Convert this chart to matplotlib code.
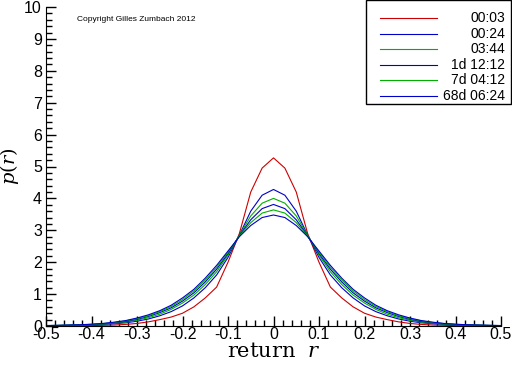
import numpy as np
import matplotlib
matplotlib.use("Agg")
import matplotlib.pyplot as plt
from matplotlib.ticker import MultipleLocator, AutoMinorLocator
from matplotlib.lines import Line2D
from matplotlib.patches import Rectangle

# return grid (one half, mirrored below)
r_half = [0.0, 0.025, 0.05, 0.075, 0.1, 0.125, 0.15, 0.175, 0.2, 0.225, 0.25,
          0.275, 0.3, 0.325, 0.35, 0.375, 0.4, 0.425, 0.45, 0.475, 0.5]

# densities, one value per r_half point
p_0003 = [5.27, 4.95, 4.2, 2.9, 2.0, 1.22, 0.88, 0.6, 0.4, 0.28, 0.2,
          0.13, 0.08, 0.05, 0.03, 0.02, 0.015, 0.01, 0.01, 0.01, 0.01]
p_0024 = [4.28, 4.1, 3.6, 2.85, 2.15, 1.6, 1.2, 0.88, 0.63, 0.45, 0.32,
          0.22, 0.15, 0.1, 0.07, 0.05, 0.035, 0.025, 0.018, 0.012, 0.01]
p_0344 = [4.0, 3.85, 3.45, 2.85, 2.22, 1.7, 1.3, 0.97, 0.72, 0.52, 0.37,
          0.26, 0.18, 0.12, 0.085, 0.06, 0.042, 0.03, 0.02, 0.015, 0.01]
p_1d = [3.81, 3.68, 3.33, 2.83, 2.27, 1.78, 1.38, 1.04, 0.78, 0.57, 0.42,
        0.3, 0.21, 0.14, 0.1, 0.07, 0.05, 0.035, 0.025, 0.018, 0.012]
p_7d = [3.64, 3.54, 3.24, 2.82, 2.31, 1.84, 1.44, 1.1, 0.83, 0.61, 0.45,
        0.32, 0.23, 0.16, 0.11, 0.075, 0.052, 0.038, 0.027, 0.019, 0.013]
p_68d = [3.48, 3.4, 3.15, 2.8, 2.35, 1.9, 1.5, 1.15, 0.88, 0.65, 0.48,
         0.35, 0.25, 0.17, 0.12, 0.08, 0.055, 0.04, 0.03, 0.02, 0.015]

labels = ["00:03", "00:24", "03:44", "1d 12:12", "7d 04:12", "68d 06:24"]
series = [p_0003, p_0024, p_0344, p_1d, p_7d, p_68d]
colors = ["#cc0000", "#0000cc", "#00b000", "#0000cc", "#00b000", "#0000cc"]


def mirror(vals):
    v = np.asarray(vals)
    return np.concatenate([v[:0:-1], v])


r = np.concatenate([-np.asarray(r_half)[:0:-1], np.asarray(r_half)])

plt.rcParams['font.family'] = ['Liberation Sans', 'DejaVu Sans']
plt.rcParams['mathtext.fontset'] = 'dejavuserif'

W, H = 512, 366
fig = plt.figure(figsize=(W / 100, H / 100), dpi=100)
ax = fig.add_axes([46 / W, 1 - 326 / H, 455 / W, 319 / H])

for vals, lab, c in zip(series, labels, colors):
    ax.plot(r, mirror(vals), color=c, lw=0.8, label=lab)

ax.set_xlim(-0.5, 0.5)
ax.set_ylim(0, 10)
ax.yaxis.set_major_locator(MultipleLocator(1))
ax.xaxis.set_minor_locator(AutoMinorLocator(5))
ax.yaxis.set_minor_locator(AutoMinorLocator(5))
ax.set_xticks(np.round(np.arange(-0.5, 0.51, 0.1), 1))
ax.set_xticklabels(["-0.5", "-0.4", "-0.3", "-0.2", "-0.1", "0",
                    "0.1", "0.2", "0.3", "0.4", "0.5"])
ax.tick_params(which='major', direction='in', length=7, width=1,
               labelsize=11.5, pad=1)
ax.tick_params(axis='y', which='major', pad=3)
ax.tick_params(which='minor', direction='in', length=4, width=1)
for s in ['top', 'right']:
    ax.spines[s].set_visible(False)

ax.set_xlabel("return  $r$", family='serif', fontsize=15, labelpad=0)
ax.set_ylabel("$p(r)$", fontsize=14)
ax.yaxis.set_label_coords(-0.056, 0.5)

ax.text(0.068, 9.62, "Copyright Gilles Zumbach 2012", fontsize=6,
        va='center', ha='left', transform=ax.get_yaxis_transform())

# legend box drawn by hand so labels can be right aligned
fig.add_artist(Rectangle((366 / W, 1 - 104 / H), 145 / W, 104 / H,
                         transform=fig.transFigure, fill=False,
                         edgecolor='black', lw=1))
rows = [18, 34, 49, 65, 80, 96]
for yy, lab, c in zip(rows, labels, colors):
    fy = 1 - yy / H
    fig.add_artist(Line2D([380 / W, 437 / W], [fy, fy], color=c, lw=0.8,
                          transform=fig.transFigure))
    fig.text(505 / W, fy, lab, ha='right', va='center', fontsize=10)

fig.savefig("out.png", dpi=100)
